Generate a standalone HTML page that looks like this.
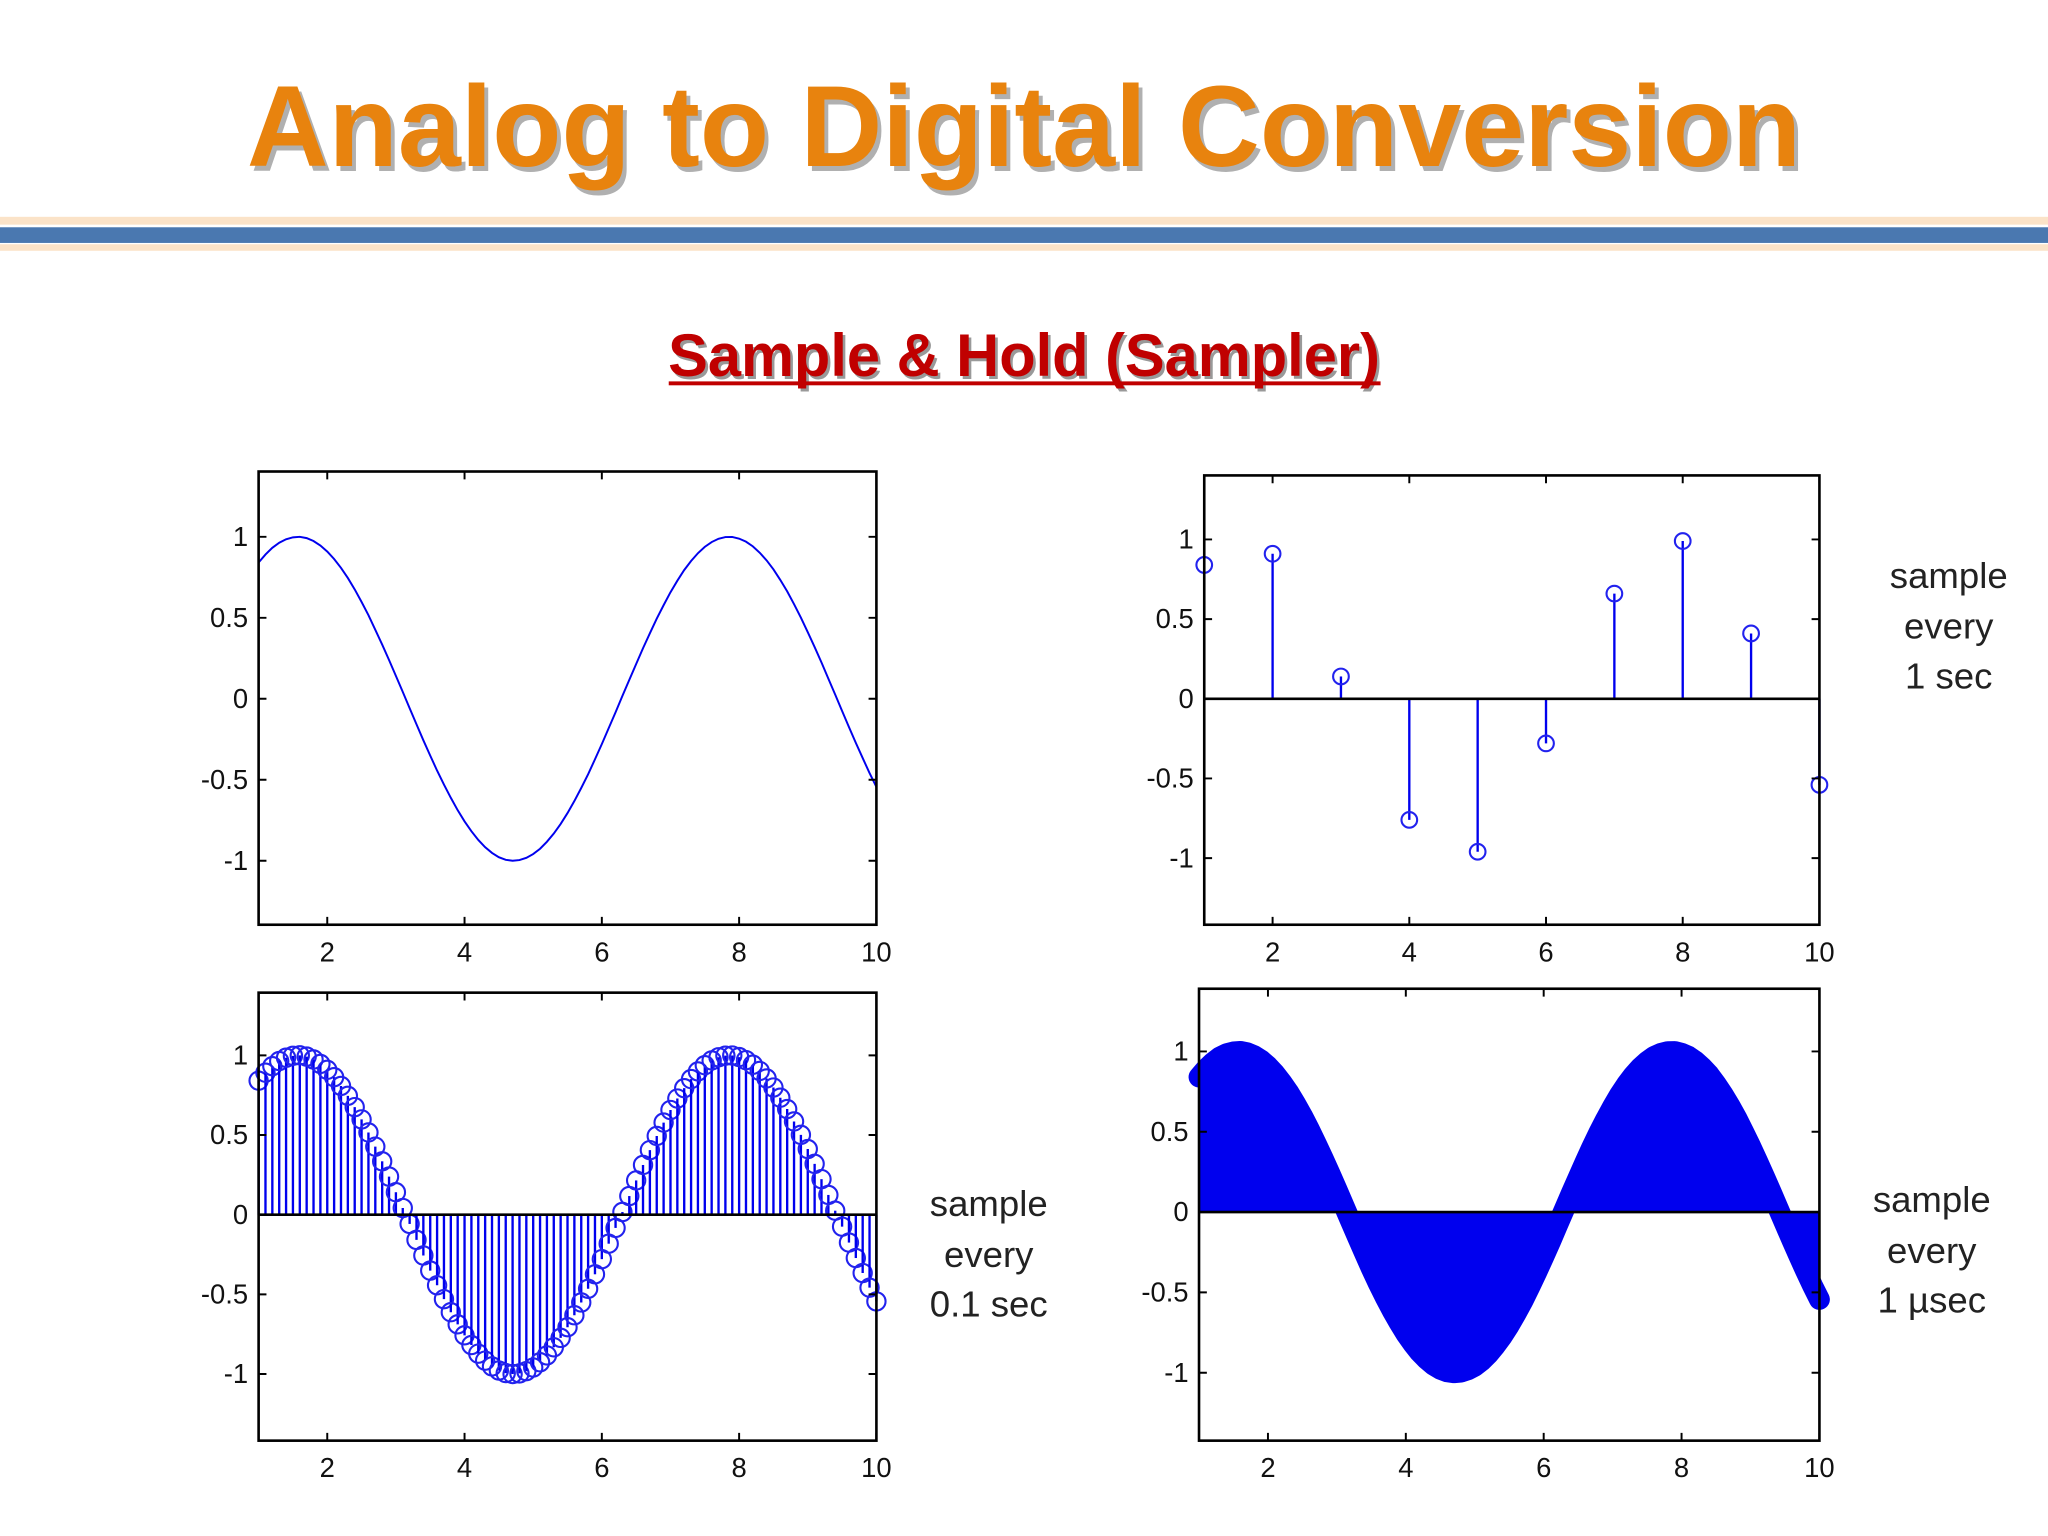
<!DOCTYPE html>
<html><head><meta charset="utf-8"><style>
html,body{margin:0;padding:0;background:#fff;}
svg{display:block;}
text{font-family:"Liberation Sans",sans-serif;}
</style></head><body>
<svg id="s" width="2048" height="1536" viewBox="0 0 1568 1176" xmlns="http://www.w3.org/2000/svg">
<rect width="1568" height="1176" fill="#fff"/>
<text x="787" y="131" text-anchor="middle" font-size="88" font-weight="bold" fill="#b0b0b0" textLength="1190" lengthAdjust="spacingAndGlyphs">Analog to Digital Conversion</text>
<text x="784" y="127" text-anchor="middle" font-size="88" font-weight="bold" fill="#E8830E" textLength="1190" lengthAdjust="spacingAndGlyphs">Analog to Digital Conversion</text>
<rect x="0" y="166" width="1568" height="6" fill="#fbe3c8"/>
<rect x="0" y="174" width="1568" height="12" fill="#4a78b0"/>
<rect x="0" y="187" width="1568" height="5" fill="#fbe3c8"/>
<text x="786" y="290" text-anchor="middle" font-size="46" font-weight="bold" fill="#999" textLength="545" lengthAdjust="spacingAndGlyphs">Sample &amp; Hold (Sampler)</text>
<text x="784" y="288" text-anchor="middle" font-size="46" font-weight="bold" fill="#C00000" textLength="545" lengthAdjust="spacingAndGlyphs">Sample &amp; Hold (Sampler)</text>
<rect x="512" y="292" width="545" height="3" fill="#C00000"/>
<g font-size="28" fill="#222" text-anchor="middle">
<text x="1492" y="450">sample</text>
<text x="1492" y="489">every</text>
<text x="1492" y="527">1 sec</text>
<text x="757" y="931">sample</text>
<text x="757" y="970">every</text>
<text x="757" y="1008">0.1 sec</text>
<text x="1479" y="928">sample</text>
<text x="1479" y="967">every</text>
<text x="1479" y="1005">1 µsec</text>
</g>
</svg>
<script>
const fineX = [];
for (let i = 0; i <= 90; i++) fineX.push(1 + i / 10);
const fineY = [.841,.891,.932,.964,.985,.997,1.0,.992,.974,.946,.909,.863,.808,.746,.675,.598,.516,.427,.335,.239,.141,.042,-.058,-.158,-.256,-.351,-.443,-.530,-.612,-.688,-.757,-.818,-.872,-.916,-.952,-.978,-.994,-1.0,-.996,-.982,-.959,-.926,-.883,-.832,-.773,-.706,-.631,-.551,-.465,-.374,-.279,-.182,-.083,.017,.117,.215,.312,.405,.494,.578,.657,.729,.794,.851,.899,.938,.968,.988,.998,.999,.989,.970,.941,.902,.855,.798,.734,.663,.585,.501,.412,.319,.223,.124,.025,-.075,-.175,-.272,-.366,-.458,-.544];
const coarseX = [1,2,3,4,5,6,7,8,9,10];
const coarseY = [0.84,0.91,0.14,-0.76,-0.96,-0.28,0.66,0.99,0.41,-0.54];
const xTicks = [2,4,6,8,10];
const yTicks = [1,0.5,0,-0.5,-1];
const yTickLabels = ["1","0.5","0","-0.5","-1"];

const svg = document.getElementById('s');
const NS = 'http://www.w3.org/2000/svg';
function mk(tag, attrs, parent) {
  const e = document.createElementNS(NS, tag);
  for (const k in attrs) e.setAttribute(k, attrs[k]);
  (parent || svg).appendChild(e);
  return e;
}
function panel(name, L, R, T, B, y1, y0) {
  const g = mk('g', {});
  
  
  const sx = v => L + (v - 1) * (R - L) / 9;
  const sy = v => y0 - v * (y0 - y1);
  return {g, sx, sy, L, R, T, B};
}
function frame(p) {
  const {g, sx, sy, L, R, T, B} = p;
  xTicks.forEach(t => {
    const x = sx(t);
    const tk = mk('path', {d:`M${x} ${B}v-6M${x} ${T}v6`, stroke:'#000', 'stroke-width':1.5}, g);
    
    
    const lb = mk('text', {x:x, y:B + 28, 'text-anchor':'middle', 'font-size':21, fill:'#111'}, g);
    lb.textContent = t;
    
    
  });
  yTicks.forEach((t, i) => {
    const y = sy(t);
    const tk = mk('path', {d:`M${L} ${y}h6M${R} ${y}h-6`, stroke:'#000', 'stroke-width':1.5}, g);
    
    
    const lb = mk('text', {x:L - 8, y:y + 7, 'text-anchor':'end', 'font-size':21, fill:'#111'}, g);
    lb.textContent = yTickLabels[i];
    
    
  });
  const bx = mk('rect', {x:L, y:T, width:R - L, height:B - T, fill:'none', stroke:'#000', 'stroke-width':2}, g);
  
  
}
function baseline(p) {
  const z = mk('line', {x1:p.L, x2:p.R, y1:p.sy(0), y2:p.sy(0), stroke:'#000', 'stroke-width':2}, p.g);
  
  
}
function stems(p, xs, ys, r) {
  xs.forEach((xv, i) => {
    const x = p.sx(xv), y = p.sy(ys[i]);
    const s = mk('line', {x1:x, x2:x, y1:p.sy(0), y2:y, stroke:'#0000ee', 'stroke-width':1.8}, p.g);
    
    
    const c = mk('circle', {cx:x, cy:y, r:r, fill:'none', stroke:'#2222ee', 'stroke-width':1.6}, p.g);
    
    
  });
}

const p1 = panel('analog-signal-plot', 198, 671, 361, 708, 411, 535);
const d1 = fineX.map((x, i) => (i ? 'L' : 'M') + p1.sx(x).toFixed(1) + ' ' + p1.sy(fineY[i]).toFixed(1)).join('');
const l1 = mk('path', {d:d1, fill:'none', stroke:'#0000ee', 'stroke-width':1.5}, p1.g);


frame(p1);

const p2 = panel('sample-1sec-plot', 922, 1393, 364, 708, 413, 535);
stems(p2, coarseX, coarseY, 6);
baseline(p2);
frame(p2);

const p3 = panel('sample-01sec-plot', 198, 671, 760, 1103, 808, 930);
stems(p3, fineX, fineY, 7);
baseline(p3);
frame(p3);

const p4 = panel('sample-1usec-plot', 918, 1393, 757, 1103, 805, 928);
const d4 = 'M' + p4.sx(1) + ' ' + p4.sy(0) + fineX.map((x, i) => 'L' + p4.sx(x).toFixed(1) + ' ' + p4.sy(fineY[i]).toFixed(1)).join('') + 'L' + p4.sx(10) + ' ' + p4.sy(0) + 'Z';
const f4 = mk('path', {d:d4, fill:'#0000ee', stroke:'#0000ee', 'stroke-width':1}, p4.g);


const d4b = fineX.map((x, i) => (i ? 'L' : 'M') + p4.sx(x).toFixed(1) + ' ' + p4.sy(fineY[i]).toFixed(1)).join('');
const e4 = mk('path', {d:d4b, fill:'none', stroke:'#0000ee', 'stroke-width':16, 'stroke-linecap':'round', 'stroke-linejoin':'round'}, p4.g);


baseline(p4);
frame(p4);
</script>
</body></html>
